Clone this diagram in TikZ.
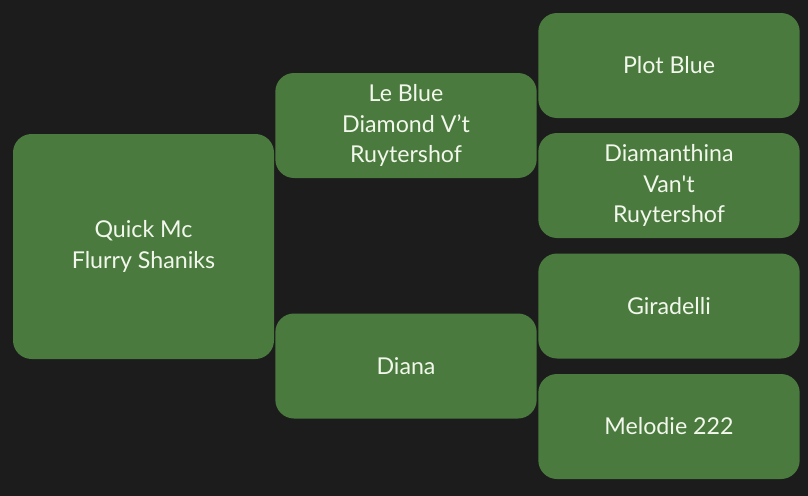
\documentclass[tikz,border=0pt]{standalone}
\usepackage{fontspec}
\newfontfamily\dogfont{Lato}
\usepackage{tikz}
\usetikzlibrary{positioning}

\definecolor{bgdark}{HTML}{1C1C1C}
\definecolor{horsegreen}{HTML}{4A7A3E}
\definecolor{nametext}{HTML}{F2F7EC}

\begin{document}
\begin{tikzpicture}[x=0.75pt, y=-0.75pt,
    dog/.style={shape=rectangle, rounded corners=14pt, fill=horsegreen, draw=none,
      text=nametext, align=center, inner sep=0pt, minimum width=196pt, minimum height=78.75pt,
      font=\dogfont\fontsize{17.4}{23.2}\selectfont}]
    \fill[bgdark] (0,0) rectangle (808,496);

    % first generation
    \node[dog, minimum width=195.75pt, minimum height=168.75pt] (quick) at (143.5,246.5) {Quick Mc\\Flurry Shaniks};

    % parents
    \node[dog] (leblue) at (406,125.5) {Le Blue\\Diamond V’t\\Ruytershof};
    \node[dog] (diana) at (406,366) {Diana};

    % grandparents
    \node[dog] (plot) at (669,65.5) {Plot Blue};
    \node[dog] (diamanthina) at (669,185.5) {Diamanthina\\Van't\\Ruytershof};
    \node[dog] (giradelli) at (669,306) {Giradelli};
    \node[dog] (melodie) at (669,426.5) {Melodie 222};
\end{tikzpicture}
\end{document}
